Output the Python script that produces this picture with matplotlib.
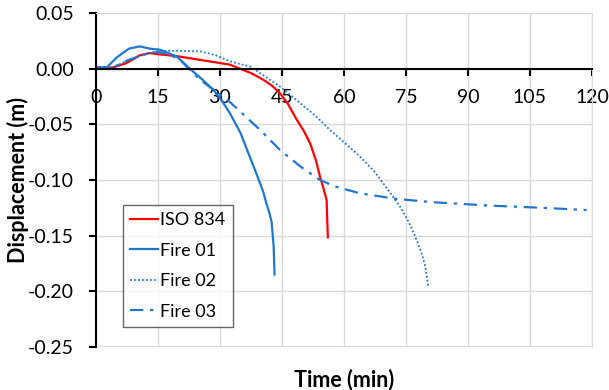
#!/usr/bin/env python3
import matplotlib
matplotlib.use("Agg")
import matplotlib.pyplot as plt
from matplotlib.ticker import FuncFormatter, MultipleLocator

# time (min) / displacement (m) for each fire curve
iso_t = [0, 4, 7.4, 10.6, 13, 15, 20, 25, 32.4, 34.8, 37.5, 40.5, 42.5, 44.5, 46.5, 48.6, 50.3, 51.8, 53.2, 54.2, 55.0, 55.8, 56.1]
iso_d = [0.001, 0.001, 0.005, 0.012, 0.014, 0.013, 0.011, 0.008, 0.0036, 0.0, -0.004, -0.010, -0.015, -0.022, -0.032, -0.046, -0.056, -0.067, -0.082, -0.097, -0.107, -0.118, -0.1515]

f01_t = [0, 2.6, 5, 8, 10.6, 13, 15.5, 19.5, 22.7, 25.5, 28.4, 30.5, 32.4, 35, 37.3, 39, 40.5, 41.3, 42.0, 42.5, 43.0, 43.2]
f01_d = [0.001, 0.001, 0.010, 0.018, 0.020, 0.018, 0.017, 0.011, 0.0, -0.009, -0.019, -0.029, -0.040, -0.058, -0.080, -0.096, -0.111, -0.122, -0.130, -0.138, -0.160, -0.185]

f02_t = [0, 4, 8, 12, 15, 20, 25.2, 29, 32.4, 35, 37.3, 40.5, 44.5, 49.4, 53, 56.6, 60, 63.9, 67.5, 70.3, 73.6, 75.7, 77.6, 79.0, 79.8, 80.4]
f02_d = [0.001, 0.001, 0.008, 0.013, 0.016, 0.016, 0.0155, 0.012, 0.0066, 0.004, 0.002, -0.006, -0.016, -0.031, -0.042, -0.055, -0.066, -0.079, -0.093, -0.107, -0.124, -0.138, -0.154, -0.168, -0.180, -0.196]

f03_t = [0, 4, 8, 12, 15, 17.5, 20.3, 25.2, 32.4, 39.7, 44.5, 49.5, 54.2, 58, 63.9, 72.7, 81.6, 95.3, 108, 118.7]
f03_d = [0.001, 0.001, 0.008, 0.013, 0.015, 0.013, 0.008, -0.010, -0.030, -0.055, -0.073, -0.088, -0.100, -0.106, -0.112, -0.117, -0.120, -0.123, -0.125, -0.127]

x_ticks = [0, 15, 30, 45, 60, 75, 90, 105, 120]

red = '#ff0000'
blue = '#1f77d0'
grid_c = '#d9d9d9'

plt.rcParams['font.family'] = ['Lato', 'DejaVu Sans']

fig = plt.figure(figsize=(6.09, 3.90), dpi=100)
ax = fig.add_axes([0.1576, 0.1103, 0.8144, 0.8564])

ax.plot(iso_t, iso_d, color=red, lw=1.6, label='ISO 834')
ax.plot(f01_t, f01_d, color=blue, lw=1.6, label='Fire 01')
ax.plot(f02_t, f02_d, color=blue, lw=1.3, ls=(0, (1, 1.2)), label='Fire 02')
ax.plot(f03_t, f03_d, color=blue, lw=1.6, ls=(0, (6, 3, 1.5, 3)), label='Fire 03')

ax.set_xlim(0, 120)
ax.set_ylim(-0.25, 0.05)
ax.set_xticks(x_ticks)
ax.yaxis.set_major_locator(MultipleLocator(0.05))
ax.yaxis.set_major_formatter(FuncFormatter(lambda v, p: '%.2f' % v))
ax.grid(True, color=grid_c, lw=1)
ax.set_axisbelow(True)

ax.spines['bottom'].set_position(('data', 0))
ax.spines['bottom'].set_linewidth(1.5)
ax.spines['left'].set_linewidth(1.5)
ax.spines['top'].set_color(grid_c)
ax.spines['right'].set_color(grid_c)
ax.tick_params(axis='both', direction='out', length=5, width=1.5, labelsize=14, colors='black')
ax.tick_params(axis='x', pad=10)
ax.tick_params(axis='y', pad=11)
# bottom gridline at -0.25 stands in for the frame edge
ax.axhline(-0.25, color=grid_c, lw=1.5, zorder=0)

ax.set_xlabel('Time (min)', fontsize=15.5, fontweight='bold')
ax.xaxis.set_label_coords(0.5, -0.065)
ax.set_ylabel('Displacement (m)', fontsize=15.5, fontweight='bold')
ax.yaxis.set_label_coords(-0.135, 0.5)

leg = ax.legend(loc='upper left', bbox_to_anchor=(0.055, 0.425), fontsize=13,
                frameon=True, fancybox=False, edgecolor='#404040',
                handlelength=1.5, handletextpad=0.15, borderpad=0.4,
                labelspacing=0.8, borderaxespad=0)
leg.get_frame().set_linewidth(1.0)

fig.savefig('out.png', dpi=100)
